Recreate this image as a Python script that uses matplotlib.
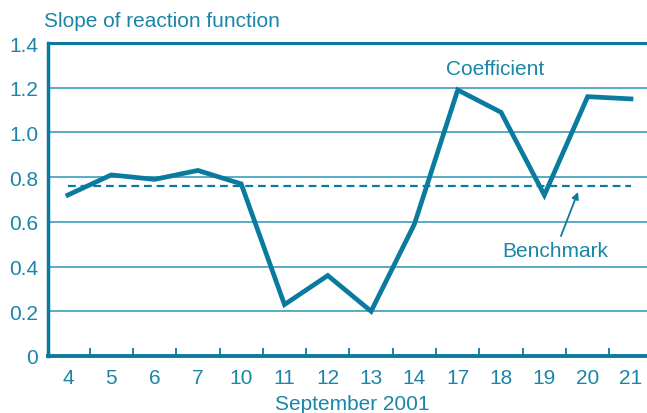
import matplotlib.pyplot as plt
import numpy as np

plt.rcParams['font.family'] = ['Liberation Sans', 'DejaVu Sans']

dias = ["4", "5", "6", "7", "10", "11", "12", "13", "14", "17", "18", "19", "20", "21"]
coeficiente = [0.72, 0.81, 0.79, 0.83, 0.77, 0.23, 0.36, 0.20, 0.59, 1.19, 1.09, 0.72, 1.16, 1.15]
benchmark = 0.76
y_ticks = [0, 0.2, 0.4, 0.6, 0.8, 1.0, 1.2, 1.4]
y_labels = ["0", "0.2", "0.4", "0.6", "0.8", "1.0", "1.2", "1.4"]

cor = "#0a7b9e"
cor_texto = "#1a85a8"
cor_grade = "#4ba5c0"

fig = plt.figure(figsize=(6.47, 4.14), dpi=100)
ax = fig.add_axes([0.0742, 0.1377, 0.9258, 0.756])

x = np.arange(len(dias))

for y in y_ticks[1:-1]:
    ax.axhline(y, color=cor_grade, lw=1.3, zorder=1)
ax.axhline(1.4, color=cor, lw=2.2, zorder=1, clip_on=False)

ax.plot([x[0], x[-1]], [benchmark, benchmark], color=cor, lw=1.6,
        ls=(0, (3.5, 2.2)), zorder=2)
ax.plot(x, coeficiente, color=cor, lw=3.4, solid_joinstyle="miter", zorder=3)

ax.set_xlim(-0.46, 13.37)
ax.set_ylim(0, 1.4)

ax.set_xticks(x)
ax.set_xticklabels(dias)
ax.set_xticks(x[:-1] + 0.5, minor=True)
ax.tick_params(axis="x", which="major", length=0, pad=9, labelsize=15, labelcolor=cor_texto)
ax.tick_params(axis="x", which="minor", direction="in", length=6, width=1.3, color=cor)

ax.set_yticks(y_ticks)
ax.set_yticklabels(y_labels)
ax.tick_params(axis="y", length=0, pad=7, labelsize=15, labelcolor=cor_texto)

for lado in ["top", "right"]:
    ax.spines[lado].set_visible(False)
ax.spines["left"].set_color(cor)
ax.spines["left"].set_linewidth(2.5)
ax.spines["bottom"].set_color(cor)
ax.spines["bottom"].set_linewidth(2.8)

fig.text(0.068, 0.947, "Slope of reaction function", fontsize=15, color=cor_texto, va="center")
fig.text(0.544, 0.022, "September 2001", fontsize=15, color=cor_texto, ha="center", va="center")

ax.text(9.86, 1.286, "Coefficient", fontsize=15, color=cor_texto, ha="center", va="center")
ax.text(11.25, 0.47, "Benchmark", fontsize=15, color=cor_texto, ha="center", va="center")
ax.annotate("", xy=(11.8, 0.745), xytext=(11.36, 0.525),
            arrowprops=dict(arrowstyle="-|>", color=cor, lw=1.3, mutation_scale=10))

fig.savefig("out.png", dpi=100)
